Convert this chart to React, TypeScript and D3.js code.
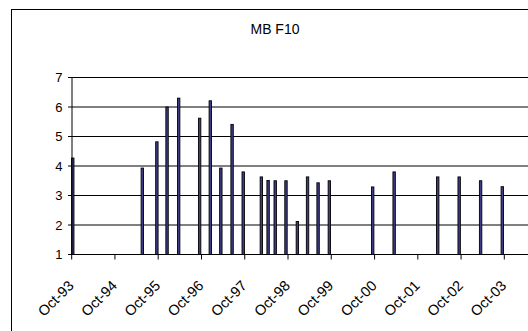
import React from "react";
import * as d3 from "d3";

const title = "MB F10";
const dates = [
  "1993-10-10", "1995-05-20", "1995-09-20", "1995-12-15", "1996-03-22",
  "1996-09-15", "1996-12-14", "1997-03-13", "1997-06-16", "1997-09-18",
  "1998-02-18", "1998-04-16", "1998-06-15", "1998-09-14", "1998-12-19",
  "1999-03-15", "1999-06-12", "1999-09-15", "2000-09-15", "2001-03-15",
  "2002-03-18", "2002-09-15", "2003-03-15", "2003-09-14",
];
const values = [
  4.27, 3.93, 4.82, 6.0, 6.3, 5.62, 6.21, 3.93, 5.41, 3.8, 3.63, 3.51, 3.5,
  3.5, 2.12, 3.63, 3.43, 3.5, 3.29, 3.8, 3.63, 3.63, 3.5, 3.3,
];
const yTicks = [1, 2, 3, 4, 5, 6, 7];
const xTickYears = [1993, 1994, 1995, 1996, 1997, 1998, 1999, 2000, 2001, 2002, 2003];

export default function App() {
  const W = 528;
  const H = 331;
  const x0 = 71.7;
  const x1 = 504.3;
  const xs = d3
    .scaleTime()
    .domain([new Date(1993, 9, 1), new Date(2003, 9, 1)])
    .range([x0, x1]);
  const ys = d3.scaleLinear().domain([1, 7]).range([254.5, 77.5]);
  const fmt = d3.timeFormat("%b-%y");
  const font = "Arial, 'Liberation Sans', sans-serif";
  const parse = d3.timeParse("%Y-%m-%d");
  const bars = dates.map((d, i) => ({ date: parse(d) as Date, v: values[i] }));
  const axisX = 72;

  return (
    <svg
      width={W}
      height={H}
      style={{ position: "absolute", left: 0, top: 0, background: "#fff" }}
      fontFamily={font}
    >
      <rect x={0} y={0} width={W} height={H} fill="#fff" />
      <rect x={11.5} y={9.5} width={W + 20} height={H + 20} fill="none" stroke="#000" strokeWidth={1} />
      <text x={275} y={34} textAnchor="middle" fontSize={14} fill="#000">
        {title}
      </text>
      {yTicks.map((t) => (
        <g key={t}>
          {t > 1 && (
            <line x1={axisX} x2={W} y1={ys(t)} y2={ys(t)} stroke="#000" strokeWidth={1} />
          )}
          <line x1={axisX - 4} x2={axisX} y1={ys(t)} y2={ys(t)} stroke="#000" />
          <text x={62.5} y={ys(t)} dy="0.36em" textAnchor="end" fontSize={13} fill="#000">
            {t}
          </text>
        </g>
      ))}
      {bars.map((b, i) => (
        <rect
          key={i}
          x={xs(b.date) - 1.2}
          y={ys(b.v)}
          width={2.4}
          height={ys(1) - ys(b.v)}
          fill="#3c3c88"
          stroke="#000"
          strokeWidth={0.9}
        />
      ))}
      <line x1={axisX} x2={axisX} y1={ys(7)} y2={ys(1)} stroke="#000" strokeWidth={1} />
      <line x1={axisX} x2={W} y1={ys(1)} y2={ys(1)} stroke="#000" strokeWidth={1} />
      {xTickYears.map((yr) => {
        const d = new Date(yr, 9, 1);
        const x = xs(d);
        return (
          <g key={yr}>
            <line x1={x} x2={x} y1={ys(1)} y2={ys(1) + 5} stroke="#000" />
            <text
              transform={`translate(${x + 3},${ys(1) + 32}) rotate(-45)`}
              textAnchor="end"
              fontSize={14.5}
              fill="#000"
            >
              {fmt(d)}
            </text>
          </g>
        );
      })}
    </svg>
  );
}
